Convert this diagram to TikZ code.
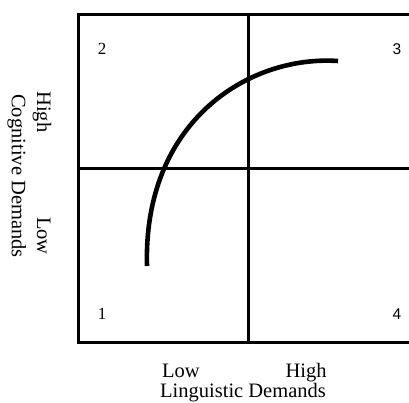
\documentclass[tikz,border=0pt]{standalone}
\usepackage{fontspec}
\setmainfont{Liberation Serif}
\newfontfamily\numsans{Liberation Sans}
\begin{document}
\begin{tikzpicture}[x=1pt,y=-1pt,
  gridline/.style={line width=3pt,black},
  curveline/.style={line width=4.6pt,black},
  lbl/.style={font=\fontsize{20.5}{23}\selectfont,inner sep=0pt,anchor=base},
  num/.style={font=\fontsize{17}{19}\selectfont,inner sep=0pt,anchor=base},
  sansnum/.style={num,font=\numsans\fontsize{15.5}{17}\selectfont}]
\useasboundingbox (0,0) rectangle (409,403);
\begin{scope}
\clip (0,0) rectangle (409,403);
\draw[gridline] (78,15) -- (420,15);
\draw[gridline] (78,342) -- (420,342);
\draw[gridline] (78,13.5) -- (78,343.5);
\draw[gridline] (248,15) -- (248,342);
\draw[gridline] (78,169) -- (420,169);
\end{scope}
\coordinate (cs) at (147,266);
\coordinate (ce) at (338,61);
\draw[curveline] (cs) .. controls (143,122) and (248,55) .. (ce);
\node[num] (n2) at (102,55) {2};
\node[sansnum] (n3) at (397,55) {3};
\node[num] (n1) at (102,319) {1};
\node[sansnum] (n4) at (397,319) {4};
\node[lbl,rotate=-90] (hi) at (37,112) {High};
\node[lbl,rotate=-90] (lo) at (37,236) {Low};
\node[lbl,rotate=-90] (cd) at (12,176) {Cognitive Demands};
\node[lbl] (llo) at (181,377) {Low};
\node[lbl] (lhi) at (306,377) {High};
\node[lbl] (ld) at (243,397) {Linguistic Demands};
\end{tikzpicture}
\end{document}
